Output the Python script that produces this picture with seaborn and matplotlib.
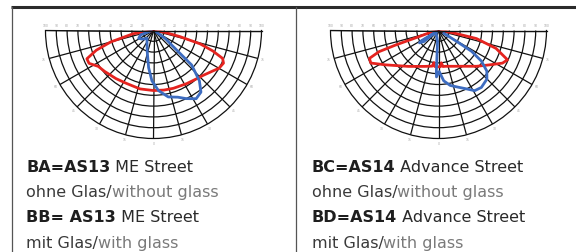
import numpy as np
import matplotlib
matplotlib.use('Agg')
import matplotlib.pyplot as plt
import seaborn as sns

# --- Daten (Winkel in Grad von Nadir, r relativ zum Außenring) ---
left_red_deg = [-90, -81, -75, -71, -67, -63, -57, -50, -38, -27, -13, 0, 10, 19, 32, 42, 48, 55, 60, 65, 68, 71, 74, 77, 80, 85, 90]
left_red_r = [0.0, 0.19, 0.41, 0.56, 0.67, 0.67, 0.61, 0.59, 0.565, 0.55, 0.555, 0.556, 0.56, 0.566, 0.58, 0.60, 0.62, 0.66, 0.70, 0.715, 0.69, 0.58, 0.45, 0.25, 0.12, 0.04, 0.0]

left_blue_deg = [-85, -71, -62, -54, -46, -40, -30, -17, -7.5, -1.8, 4.7, 12.5, 20, 25.7, 32, 37.6, 42.4, 47.9, 49.5, 55.8, 62]
left_blue_r = [0.02, 0.128, 0.155, 0.135, 0.11, 0.093, 0.12, 0.20, 0.347, 0.466, 0.558, 0.63, 0.657, 0.70, 0.745, 0.72, 0.63, 0.476, 0.30, 0.13, 0.03]

right_red_deg = [-90, -77.7, -72.4, -71.3, -70.4, -68, -64.3, -57, -40, -21, -10, -8, -6, 0, 3, 5, 7, 11.3, 27.4, 46.8, 56, 63, 67, 72.7, 78, 80, 85, 90]
right_red_r = [0.0, 0.07, 0.2, 0.42, 0.585, 0.69, 0.695, 0.584, 0.434, 0.356, 0.335, 0.30, 0.335, 0.336, 0.336, 0.30, 0.336, 0.338, 0.373, 0.484, 0.569, 0.665, 0.694, 0.558, 0.36, 0.174, 0.05, 0.0]

right_blue_deg = [-62, -59, -57, -53, -54.5, -50, -5, -3, -2.5, 1, 2.6, 5.9, 12, 19.4, 25.7, 31, 37, 44.9, 50, 54.5, 57.8, 59, 62]
right_blue_r = [0.02, 0.185, 0.21, 0.171, 0.072, 0.03, 0.1, 0.375, 0.43, 0.38, 0.405, 0.468, 0.52, 0.557, 0.60, 0.65, 0.66, 0.635, 0.584, 0.488, 0.362, 0.198, 0.055]

rings = [0.1, 0.2, 0.3, 0.4, 0.5, 0.6, 0.7, 0.8, 0.9, 1.0]
rays = list(range(-90, 91, 15))

captions = {
    'left': [('BA=AS13', ' ME Street'), ('ohne Glas/', 'without glass'),
             ('BB= AS13', ' ME Street'), ('mit Glas/', 'with glass')],
    'right': [('BC=AS14', ' Advance Street'), ('ohne Glas/', 'without glass'),
              ('BD=AS14', ' Advance Street'), ('mit Glas/', 'with glass')],
}

RED = '#e5231f'
BLUE = '#3d6cc0'
W, H = 576, 252

sns.set_theme(style='white')
plt.rcParams['font.family'] = ['DejaVu Sans']

fig = plt.figure(figsize=(W / 100, H / 100), dpi=100)
fig.patch.set_facecolor('white')

# Rahmen + Text in Pixelkoordinaten
bg = fig.add_axes([0, 0, 1, 1])
bg.set_xlim(0, W)
bg.set_ylim(H, 0)
bg.axis('off')
bg.plot([11, W], [7, 7], color='#2b2b2b', lw=2.2, solid_capstyle='butt')
bg.plot([11.5, 11.5], [7, H], color='#555555', lw=0.9)
bg.plot([295.7, 295.7], [7, H], color='#555555', lw=0.9)


def polar_panel(cx, cy, R, red_deg, red_r, blue_deg, blue_r):
    # Halbkreis sitzt im quadratischen Polar-Achsenfeld (Mittelpunkt bei 1/4 von oben)
    ax = fig.add_axes([(cx - R) / W, (H - cy - 1.5 * R) / H, 2 * R / W, 2 * R / H], projection='polar')
    ax.set_theta_zero_location('S')
    ax.set_thetamin(-90)
    ax.set_thetamax(90)
    ax.set_facecolor('white')
    sns.lineplot(x=np.deg2rad(red_deg), y=red_r, ax=ax, sort=False, estimator=None,
                 color=RED, lw=2.0, legend=False)
    sns.lineplot(x=np.deg2rad(blue_deg), y=blue_r, ax=ax, sort=False, estimator=None,
                 color=BLUE, lw=2.0, legend=False)
    ax.set_rlim(0, 1)
    ax.set_thetagrids(rays, labels=[])
    ax.set_rgrids(rings[:-1], labels=[])
    ax.grid(True, color='#111111', lw=0.9)
    for s in ax.spines.values():
        s.set_color('#111111')
        s.set_linewidth(0.9)
    ax.set_xlabel('')
    ax.set_ylabel('')
    # kleine graue Skalenbeschriftung
    for side in (-90, 90):
        for r in rings:
            ax.annotate(f'{int(r * 100)}', xy=(np.deg2rad(side), r), xytext=(0, 1.5),
                        textcoords='offset points', ha='center', va='bottom',
                        fontsize=2.2, color='#a0a0a0', annotation_clip=False)
    for a in rays[1:-1]:
        ax.text(np.deg2rad(a), 1.05, f'{abs(a)}', fontsize=2.2, color='#a0a0a0',
                ha='center', va='center', clip_on=False)
    return ax


polar_panel(153.5, 30.5, 108, left_red_deg, left_red_r, left_blue_deg, left_blue_r)
polar_panel(438.5, 30.5, 108, right_red_deg, right_red_r, right_blue_deg, right_blue_r)


def caption(x0, lines):
    baselines = [171.5, 197, 222.5, 248]
    for i, (a, b) in enumerate(lines):
        if i % 2 == 0:
            t = bg.text(x0, baselines[i], a, fontsize=11.5, fontweight='bold', color='#1e1e1e', va='baseline')
            bg.annotate(b, xy=(1, 0), xycoords=t, va='bottom', ha='left', fontsize=11.5, color='#2a2a2a')
        else:
            t = bg.text(x0, baselines[i], a, fontsize=11.5, color='#3a3a3a', va='baseline')
            bg.annotate(b, xy=(1, 0), xycoords=t, va='bottom', ha='left', fontsize=11.5, color='#7a7a7a')


caption(26, captions['left'])
caption(311.5, captions['right'])

fig.savefig('out.png', dpi=100)
